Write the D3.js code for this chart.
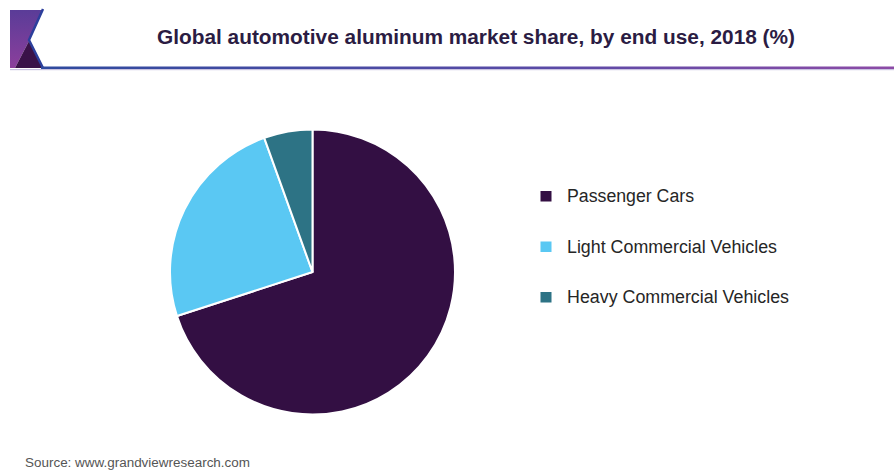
<!DOCTYPE html>
<html>
<head>
<meta charset="utf-8">
<script src="https://cdn.jsdelivr.net/npm/d3@7"></script>
<style>
  html, body { margin: 0; padding: 0; background: #fff; }
  svg { display: block; font-family: "Liberation Sans", Arial, sans-serif; }
</style>
</head>
<body>
<svg id="chart" width="894" height="471"></svg>
<script>
// End-use segments and their share of the market (%)
const segments = ["Passenger Cars", "Light Commercial Vehicles", "Heavy Commercial Vehicles"];
const shares = [70.0, 24.5, 5.5];
const colors = ["#330f43", "#5ac8f3", "#2d7385"];

const titleText = "Global automotive aluminum market share, by end use, 2018 (%)";
const sourceText = "Source: www.grandviewresearch.com";

const svg = d3.select("#chart");
const defs = svg.append("defs");

// Header: logo mark, title and gradient rule
const logoGrad = defs.append("linearGradient")
  .attr("id", "logoGrad").attr("x1", 0).attr("y1", 0).attr("x2", 0).attr("y2", 1);
logoGrad.append("stop").attr("offset", "0%").attr("stop-color", "#5a3c98");
logoGrad.append("stop").attr("offset", "100%").attr("stop-color", "#8c3f9c");

const ruleGrad = defs.append("linearGradient")
  .attr("id", "ruleGrad").attr("x1", 0).attr("y1", 0).attr("x2", 1).attr("y2", 0);
ruleGrad.append("stop").attr("offset", "0%").attr("stop-color", "#2f4a9e");
ruleGrad.append("stop").attr("offset", "60%").attr("stop-color", "#5a4aa6");
ruleGrad.append("stop").attr("offset", "100%").attr("stop-color", "#8c4ba6");

const header = svg.append("g");
header.append("path")
  .attr("d", "M10,10 L43,10 L29,41 L15,68 L10,68 Z")
  .attr("fill", "url(#logoGrad)");
header.append("path")
  .attr("d", "M29,41 L43,68 L15,68 Z")
  .attr("fill", "#3a1249");
header.append("path")
  .attr("d", "M43,9 L29,40 L43,68")
  .attr("fill", "none")
  .attr("stroke", "#2c3f9c")
  .attr("stroke-width", 2.5);
header.append("rect")
  .attr("x", 41).attr("y", 66.5).attr("width", 853).attr("height", 2.6)
  .attr("fill", "url(#ruleGrad)");
header.append("rect")
  .attr("x", 10).attr("y", 69).attr("width", 884).attr("height", 1.2)
  .attr("fill", "#c9c3e0");

header.append("text")
  .attr("x", 157).attr("y", 44)
  .attr("font-size", 19.5)
  .attr("font-weight", "bold")
  .attr("fill", "#2b1c43")
  .attr("textLength", 638)
  .attr("lengthAdjust", "spacingAndGlyphs")
  .text(titleText);

// Pie
const cx = 312.5, cy = 272, radius = 142.5;
const pie = d3.pie().sort(null).value(d => d.value).startAngle(0).endAngle(2 * Math.PI);
const arc = d3.arc().innerRadius(0).outerRadius(radius);
const data = segments.map((s, i) => ({ name: s, value: shares[i] }));
const color = d3.scaleOrdinal().domain(segments).range(colors);

svg.append("g")
  .attr("transform", `translate(${cx},${cy})`)
  .selectAll("path")
  .data(pie(data))
  .join("path")
  .attr("d", arc)
  .attr("fill", d => color(d.data.name))
  .attr("stroke", "#ffffff")
  .attr("stroke-width", 2)
  .attr("stroke-linejoin", "round");

// Legend
const legendY = d3.scalePoint().domain(segments).range([196, 297]);
const legendWidths = [127, 210, 222];
const legend = svg.append("g")
  .selectAll("g")
  .data(segments)
  .join("g")
  .attr("transform", d => `translate(540,${legendY(d)})`);
legend.append("rect")
  .attr("x", 0.5).attr("y", -5)
  .attr("width", 11).attr("height", 10.5)
  .attr("fill", d => color(d));
legend.append("text")
  .attr("x", 27).attr("y", 6)
  .attr("font-size", 18)
  .attr("fill", "#262626")
  .attr("textLength", (d, i) => legendWidths[i])
  .attr("lengthAdjust", "spacingAndGlyphs")
  .text(d => d);

// Source note
svg.append("text")
  .attr("x", 25).attr("y", 467)
  .attr("font-size", 12.5)
  .attr("fill", "#555555")
  .attr("textLength", 225)
  .attr("lengthAdjust", "spacingAndGlyphs")
  .text(sourceText);
</script>
</body>
</html>
